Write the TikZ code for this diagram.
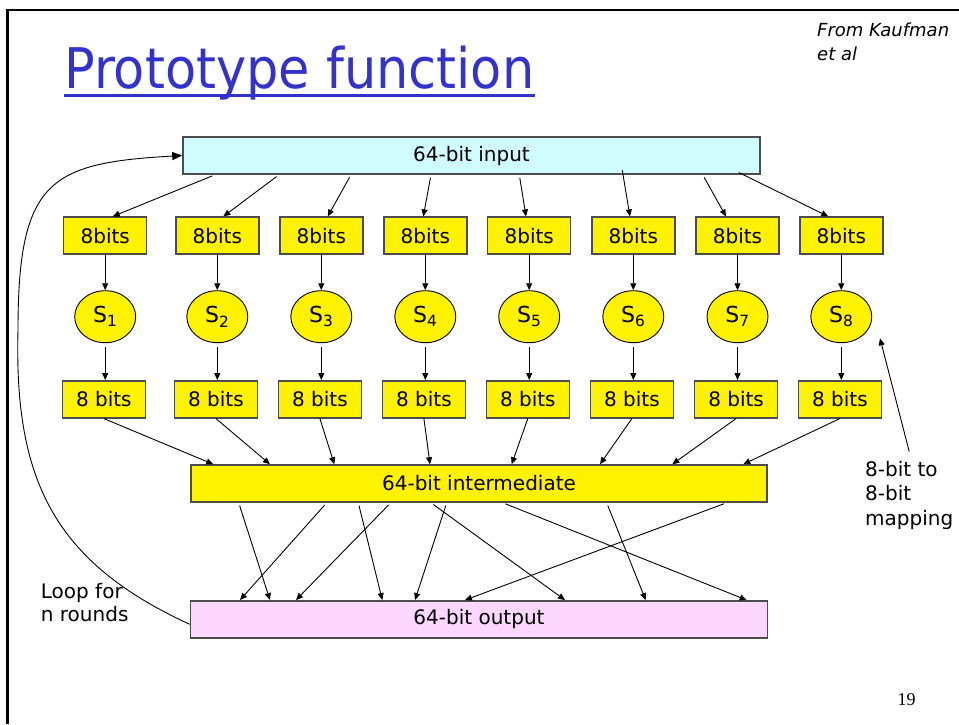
\documentclass[tikz,border=0pt]{standalone}
\usepackage{fontspec}
\setmainfont{DejaVu Sans}
\newfontfamily\numfont{Liberation Serif}
\usetikzlibrary{shapes.geometric,arrows.meta}

\begin{document}
\begin{tikzpicture}[x=1pt,y=-1pt,
  arr/.style={-{Triangle[length=7pt,width=6pt]},line width=0.9pt},
  blk/.style={draw=black!70,line width=1.5pt,minimum height=37pt,inner sep=0pt,
    font=\fontsize{20}{24}\selectfont},
  bitbox/.style={blk,fill=yellow,minimum width=83pt},
  sbx/.style={ellipse,draw,line width=0.9pt,fill=yellow,minimum width=61pt,
    minimum height=52pt,inner sep=0pt,font=\fontsize{22}{24}\selectfont},
  txt/.style={align=left,inner sep=0pt,font=\fontsize{20}{24.2}\selectfont}]
  \def\cyn{rgb,255:red,208;green,252;blue,255}
  \def\pnk{rgb,255:red,252;green,214;blue,252}
  \def\ttl{rgb,255:red,51;green,51;blue,204}
  \useasboundingbox (0,0) rectangle (959,724);
  \draw[line width=2.5pt] (7.5,724) -- (7.5,10) -- (959,10);

  % title and source
  \node[anchor=base west,inner sep=0pt,text=\ttl,font=\fontsize{56}{60}\selectfont]
    (title) at (64,88.3) {\scalebox{0.91}[1]{Prototype function}};
  \draw[draw=\ttl,line width=3pt] ([yshift=-7.4pt]title.base west) -- ([yshift=-7.4pt]title.base east);
  % base of a multi-line node is its last line
  \node[txt,anchor=base west,font=\fontsize{18}{23.3}\selectfont\itshape] (src) at (817,60) {From Kaufman\\et al};

  % 64-bit blocks
  \node[blk,fill=\cyn,minimum width=577pt] (in) at (471.5,155.5) {64-bit input};
  \node[blk,fill=yellow,minimum width=576pt] (mid) at (479,483.5) {64-bit intermediate};
  \node[blk,fill=\pnk,minimum width=577pt] (out) at (479,619.3) {64-bit output};

  % the eight S-boxes
  \foreach \x [count=\i] in {105.2,217.3,321.3,425.3,529.2,633.3,737.5,841.3} {
    \node[bitbox] (t\i) at (\x,235.7) {8bits};
    \node[sbx] (s\i) at (\x,316.7) {S\textsubscript{\i}};
    \node[bitbox] (b\i) at (\x-1.4,399.3) {8 bits};
    \draw[arr] (t\i) -- (s\i);
    \draw[arr,shorten <=4pt] (s\i.south) -- (s\i.south |- b\i.north);
  }

  % input -> 8bits
  \foreach \sx/\ex/\sh [count=\i] in {215/112.7/3,279/223.3/3,351/327.7/3,431/423.3/3,
      519.3/526/3,623/630/-5,702.7/726/3,743.3/828.3/-5}
    \draw[arr,shorten <=\sh pt] (in.south -| \sx,0) -- (t\i.north -| \ex,0);

  % 8 bits -> intermediate
  \foreach \ex [count=\i] in {213.3,270,334.3,430,511.7,600,672.3,743.3}
    \draw[arr] (b\i.south) -- (mid.north -| \ex,0);

  % intermediate -> output
  \foreach \sx/\ex in {238.7/270,326.7/240,358.3/382.3,390.7/296,431/565,
      446.7/415,502.7/746.7,606.7/645.7,726.7/465}
    \draw[arr,shorten <=3pt] (mid.south -| \sx,0) -- (out.north -| \ex,0);

  % loop back
  \coordinate (loopmid) at (18,330);
  \draw[-{Triangle[length=10pt,width=8pt]},line width=0.9pt] ([yshift=-5pt]out.west)
    .. controls (54,562) and (14,480) .. (loopmid)
    .. controls (18,180) and (50,163) .. (in.west);
  \node[txt,anchor=base west,font=\fontsize{20}{23.4}\selectfont] (loop) at (40.7,621.7) {Loop for\\n rounds};

  % mapping note
  \node[txt,anchor=base west] (maplbl) at (865,525) {8-bit to\\8-bit\\mapping};
  \coordinate (maptip) at (880,338.3);
  \draw[arr,shorten <=10pt] (maplbl.north -| 911.7,0) -- (maptip);

  \node[anchor=base,inner sep=0pt,font=\numfont\fontsize{18}{20}\selectfont] (pg) at (906.7,705) {19};
\end{tikzpicture}
\end{document}
